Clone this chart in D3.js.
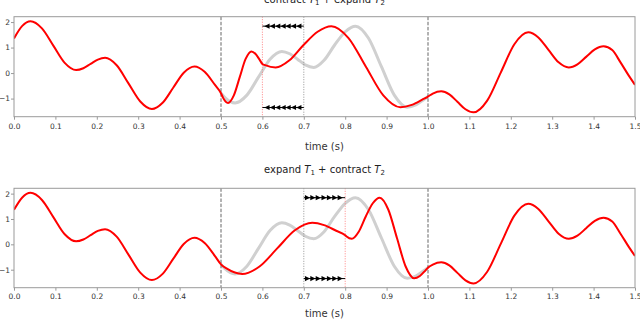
<!DOCTYPE html>
<html>
<head>
<meta charset="utf-8">
<script src="https://cdn.jsdelivr.net/npm/d3@7"></script>
<style>
body { margin: 0; background: #fff; }
text { font-family: "DejaVu Sans", sans-serif; }
</style>
</head>
<body>
<script>
// original signal (time in s, amplitude)
var sigT = [0, 0.02, 0.04, 0.0675, 0.095, 0.1225, 0.15, 0.1675, 0.185, 0.2025, 0.22,
  0.248, 0.2765, 0.305, 0.333, 0.359, 0.3845, 0.41, 0.436, 0.4605, 0.485, 0.5, 0.5095,
  0.534, 0.562, 0.5905, 0.619, 0.647, 0.666, 0.6855, 0.7, 0.705, 0.724, 0.749, 0.7745,
  0.8, 0.825, 0.856, 0.8875, 0.919, 0.95, 0.9705, 0.991, 1.0, 1.0115, 1.032, 1.0515,
  1.071, 1.0905, 1.11, 1.143, 1.176, 1.209, 1.242, 1.2665, 1.291, 1.3155, 1.34, 1.361,
  1.382, 1.403, 1.424, 1.445, 1.465, 1.485, 1.5];
var sigV = [1.36, 1.85, 2.03, 1.75, 1.075, 0.40, 0.12, 0.19, 0.36, 0.53, 0.60,
  0.306, -0.405, -1.116, -1.41, -1.165, -0.575, 0.015, 0.26, 0.051, -0.455, -0.79, -0.961,
  -1.17, -0.874, -0.16, 0.554, 0.85, 0.758, 0.535, 0.36, 0.31, 0.22, 0.50, 1.10,
  1.62, 1.84, 1.374, 0.25, -0.874, -1.34, -1.248, -1.025, -0.92, -0.802, -0.71, -0.832,
  -1.125, -1.418, -1.54, -1.08, 0.03, 1.14, 1.60, 1.398, 0.91, 0.422, 0.22, 0.342,
  0.635, 0.928, 1.05, 0.90, 0.42, -0.10, -0.46];

// warp knots: original time -> warped time
var warpFrom = [0, 0.5, 0.7, 1.0, 1.5];
var warpTopTo = [0, 0.5, 0.6, 1.0, 1.5];
var warpBotTo = [0, 0.5, 0.8, 1.0, 1.5];

var xTicks = [0, 0.1, 0.2, 0.3, 0.4, 0.5, 0.6, 0.7, 0.8, 0.9, 1.0, 1.1, 1.2, 1.3, 1.4, 1.5];
var yTicks = [-1, 0, 1, 2];

// arrow markers
var arrowTopT = [0.611, 0.624, 0.637, 0.650, 0.662, 0.675, 0.688];
var arrowBotT = [0.709, 0.722, 0.735, 0.749, 0.762, 0.775, 0.788];
var arrowRows = [1.84, -1.35];

var W = 640, H = 319;
var svg = d3.select("body").append("svg")
    .attr("width", W)
    .attr("height", H);

var x = d3.scaleLinear().domain([0, 1.5]).range([14, 635]);

function drawPanel(id, top, bottom, warpTo, title, labelY, tickY, titleY, arrowT, dir, movedT) {
  var y = d3.scaleLinear().domain([-1.71, 2.21]).range([bottom, top]);
  var warp = d3.scaleLinear().domain(warpFrom).range(warpTo);
  var g = svg.append("g");

  g.append("clipPath").attr("id", "clip" + id)
    .append("rect")
    .attr("x", x(0)).attr("y", top)
    .attr("width", x(1.5) - x(0)).attr("height", bottom - top);
  g.append("clipPath").attr("id", "mid" + id)
    .append("rect")
    .attr("x", x(0.5)).attr("y", top)
    .attr("width", x(1.0) - x(0.5)).attr("height", bottom - top);

  var pts = sigT.map(function(t, i) { return [t, sigV[i]]; });

  // original (gray) in the warped window
  var line = d3.line()
    .x(function(d) { return x(d[0]); })
    .y(function(d) { return y(d[1]); })
    .curve(d3.curveMonotoneX);

  g.append("path")
    .datum(pts)
    .attr("clip-path", "url(#mid" + id + ")")
    .attr("d", line)
    .attr("fill", "none")
    .attr("stroke", "#d0d0d0")
    .attr("stroke-width", 3);

  // vertical reference lines
  [0.5, 1.0].forEach(function(t) {
    g.append("line")
      .attr("x1", x(t)).attr("x2", x(t))
      .attr("y1", top).attr("y2", bottom)
      .attr("stroke", "#555")
      .attr("stroke-width", 0.9)
      .attr("stroke-dasharray", "3.5,1.6");
  });
  g.append("line")
    .attr("x1", x(0.7)).attr("x2", x(0.7))
    .attr("y1", top).attr("y2", bottom)
    .attr("stroke", "#777")
    .attr("stroke-width", 0.8)
    .attr("stroke-dasharray", "1,1.5");
  g.append("line")
    .attr("x1", x(movedT)).attr("x2", x(movedT))
    .attr("y1", top).attr("y2", bottom)
    .attr("stroke", "#f66")
    .attr("stroke-width", 0.8)
    .attr("stroke-dasharray", "1,1.5");

  // warped signal (red)
  g.append("path")
    .datum(pts)
    .attr("clip-path", "url(#clip" + id + ")")
    .attr("d", d3.line()
      .x(function(d) { return x(warp(d[0])); })
      .y(function(d) { return y(d[1]); })
      .curve(d3.curveMonotoneX))
    .attr("fill", "none")
    .attr("stroke", "#ff0000")
    .attr("stroke-width", 2);

  // arrow rows
  arrowRows.forEach(function(v) {
    g.append("line")
      .attr("x1", x(Math.min(0.7, movedT))).attr("x2", x(Math.max(0.7, movedT)))
      .attr("y1", y(v)).attr("y2", y(v))
      .attr("stroke", "#000").attr("stroke-width", 1);
    g.selectAll(null)
      .data(arrowT)
      .enter()
      .append("path")
      .attr("transform", function(t) { return "translate(" + x(t) + "," + y(v) + ")"; })
      .attr("d", dir < 0 ? "M-2.6,0L2.6,-2.6L2.6,2.6Z" : "M2.6,0L-2.6,-2.6L-2.6,2.6Z")
      .attr("fill", "#000");
  });

  // frame
  g.append("rect")
    .attr("x", x(0)).attr("y", top)
    .attr("width", x(1.5) - x(0)).attr("height", bottom - top)
    .attr("fill", "none")
    .attr("stroke", "#9a9a9a")
    .attr("stroke-width", 1);

  // axes
  var xa = g.append("g")
    .attr("transform", "translate(0," + bottom + ")")
    .call(d3.axisBottom(x).tickValues(xTicks).tickFormat(d3.format(".1f")).tickSize(3).tickSizeOuter(0));
  var ya = g.append("g")
    .attr("transform", "translate(" + x(0) + ",0)")
    .call(d3.axisLeft(y).tickValues(yTicks).tickFormat(d3.format("d")).tickSize(3).tickSizeOuter(0));
  [xa, ya].forEach(function(a) {
    a.select(".domain").remove();
    a.selectAll(".tick line").attr("stroke", "#9a9a9a");
    a.selectAll(".tick text")
      .attr("fill", "#333")
      .style("font-size", "7.5px")
      .style("font-family", "DejaVu Sans");
  });
  xa.selectAll(".tick text").attr("dy", null).attr("y", tickY - bottom);
  ya.selectAll(".tick text").attr("x", -4).attr("dy", "0.32em");

  g.append("text")
    .attr("x", (x(0) + x(1.5)) / 2)
    .attr("y", labelY)
    .attr("text-anchor", "middle")
    .attr("fill", "#333")
    .style("font-size", "10px")
    .text("time (s)");

  var tt = g.append("text")
    .attr("x", (x(0) + x(1.5)) / 2)
    .attr("y", titleY)
    .attr("text-anchor", "middle")
    .attr("fill", "#222")
    .style("font-size", "10px");
  title.forEach(function(p) {
    var s = tt.append("tspan").text(p.s);
    if (p.it) s.style("font-style", "italic");
    if (p.sub) s.attr("dy", 2).style("font-size", "7px");
    if (p.back) s.attr("dy", -2);
  });
}

drawPanel("a", 16.7, 116.7, warpTopTo,
  [{s: "contract "}, {s: "T", it: true}, {s: "1", sub: true}, {s: " + expand ", back: true},
   {s: "T", it: true}, {s: "2", sub: true}],
  150, 129, 3, arrowTopT, -1, 0.6);

drawPanel("b", 188.3, 287.7, warpBotTo,
  [{s: "expand "}, {s: "T", it: true}, {s: "1", sub: true}, {s: " + contract ", back: true},
   {s: "T", it: true}, {s: "2", sub: true}],
  317, 299.5, 173, arrowBotT, 1, 0.8);
</script>
</body>
</html>
